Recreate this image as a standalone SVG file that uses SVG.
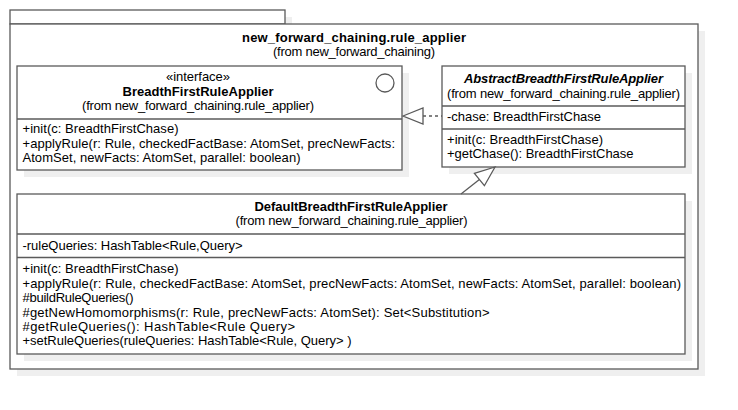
<svg xmlns="http://www.w3.org/2000/svg" width="738" height="410" viewBox="0 0 738 410">
<style>
.sh{fill:#efefef;stroke:none}
.bx{fill:#ffffff;stroke:#5a5a5a;stroke-width:1.3}
.ln{stroke:#5a5a5a;stroke-width:1.3;fill:none}
text{font-family:"Liberation Sans",Arial,sans-serif;font-size:13px;fill:#000}
.c{text-anchor:middle}
.b{font-weight:bold}
.i{font-style:italic}
</style>
<rect width="738" height="410" fill="#ffffff"/>
<g id="package">
<rect class="sh" x="17" y="17" width="275" height="14"/>
<rect class="sh" x="17" y="31" width="688" height="345"/>
<rect class="bx" x="10" y="10" width="275" height="14"/>
<rect class="bx" x="10" y="24" width="688" height="345"/>
<text class="c b" x="354" y="42" textLength="224">new_forward_chaining.rule_applier</text>
<text class="c" x="354" y="56" textLength="162">(from new_forward_chaining)</text>
</g>
<g id="BreadthFirstRuleApplier">
<rect class="sh" x="24" y="73" width="385" height="104"/>
<rect class="bx" x="17" y="66" width="385" height="104"/>
<line class="ln" x1="17" y1="119" x2="402" y2="119"/>
<circle class="ln" cx="385" cy="83" r="9"/>
<text class="c" x="198" y="81" textLength="64">«interface»</text>
<text class="c b" x="198" y="96" textLength="151">BreadthFirstRuleApplier</text>
<text class="c" x="198" y="110" textLength="232">(from new_forward_chaining.rule_applier)</text>
<text x="22.5" y="133" textLength="156">+init(c: BreadthFirstChase)</text>
<text x="22.5" y="147.5" textLength="372.5">+applyRule(r: Rule, checkedFactBase: AtomSet, precNewFacts:</text>
<text x="22.5" y="161.5" textLength="278">AtomSet, newFacts: AtomSet, parallel: boolean)</text>
</g>
<g id="AbstractBreadthFirstRuleApplier">
<rect class="sh" x="449" y="73" width="243" height="101"/>
<rect class="bx" x="442" y="66" width="243" height="101"/>
<line class="ln" x1="442" y1="106" x2="685" y2="106"/>
<line class="ln" x1="442" y1="129" x2="685" y2="129"/>
<text class="c b i" x="563.5" y="83" textLength="199">AbstractBreadthFirstRuleApplier</text>
<text class="c" x="563.5" y="97.5" textLength="233">(from new_forward_chaining.rule_applier)</text>
<text x="447" y="121" textLength="154">-chase: BreadthFirstChase</text>
<text x="447" y="143.5" textLength="156">+init(c: BreadthFirstChase)</text>
<text x="447" y="158" textLength="186.5">+getChase(): BreadthFirstChase</text>
</g>
<g id="DefaultBreadthFirstRuleApplier">
<rect class="sh" x="24" y="201" width="668" height="160"/>
<rect class="bx" x="17" y="194" width="668" height="160"/>
<line class="ln" x1="17" y1="234" x2="685" y2="234"/>
<line class="ln" x1="17" y1="257.5" x2="685" y2="257.5"/>
<text class="c b" x="351" y="211" textLength="193">DefaultBreadthFirstRuleApplier</text>
<text class="c" x="351.5" y="225" textLength="232">(from new_forward_chaining.rule_applier)</text>
<text x="22.5" y="250" textLength="220">-ruleQueries: HashTable&lt;Rule,Query&gt;</text>
<text x="22.5" y="273" textLength="156">+init(c: BreadthFirstChase)</text>
<text x="22.5" y="287.5" textLength="658.5">+applyRule(r: Rule, checkedFactBase: AtomSet, precNewFacts: AtomSet, newFacts: AtomSet, parallel: boolean)</text>
<text x="22.5" y="302" textLength="111">#buildRuleQueries()</text>
<text x="22.5" y="316.5" textLength="467">#getNewHomomorphisms(r: Rule, precNewFacts: AtomSet): Set&lt;Substitution&gt;</text>
<text x="22.5" y="330.5" textLength="272.5">#getRuleQueries(): HashTable&lt;Rule Query&gt;</text>
<text x="22.5" y="345" textLength="329">+setRuleQueries(ruleQueries: HashTable&lt;Rule, Query&gt; )</text>
</g>
<g id="connectors">
<line class="ln" x1="423" y1="116" x2="442" y2="116" stroke-dasharray="3,3"/>
<polygon class="bx" points="403,116 423,108 423,124"/>
<line class="ln" x1="461" y1="194" x2="479.4" y2="179.5"/>
<polygon class="bx" points="495,167 484.4,185.7 474.4,173.3"/>
</g>
</svg>
